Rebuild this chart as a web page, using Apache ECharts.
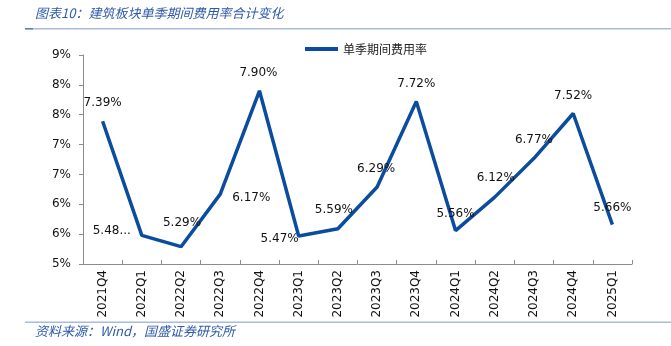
<!DOCTYPE html>
<html>
<head>
<meta charset="utf-8">
<script src="https://cdn.jsdelivr.net/npm/echarts@6/dist/echarts.min.js"></script>
<style>
html,body{margin:0;padding:0;background:#fff;}
#main{width:671px;height:346px;}
</style>
</head>
<body>
<div id="main"></div>
<script>
var categories = ['2021Q4','2022Q1','2022Q2','2022Q3','2022Q4','2023Q1','2023Q2','2023Q3','2023Q4','2024Q1','2024Q2','2024Q3','2024Q4','2025Q1'];
var rateValues = [7.39, 5.48, 5.29, 6.17, 7.90, 5.47, 5.59, 6.29, 7.72, 5.56, 6.12, 6.77, 7.52, 5.66];
var seriesName = '单季期间费用率';
var titleText = '图表10：建筑板块单季期间费用率合计变化';
var sourceText = '资料来源：Wind，国盛证券研究所';
// label offsets (style config, separate from data)
var labelOffsets = [[0,-18],[-30,-4],[1,-24],[31,4],[-1,-18],[-19,3],[-4,-19],[-1,-18],[0,-18],[0,-17],[1,-19],[0,-18],[0,-18],[0,-17]];

var seriesData = rateValues.map(function(v, i){
  return {
    value: v,
    label: {
      show: true,
      position: labelOffsets[i],
      align: 'center',
      verticalAlign: 'middle',
      formatter: i === 1 ? v.toFixed(2) + '...' : v.toFixed(2) + '%'
    }
  };
});

var chart = echarts.init(document.getElementById('main'), null, {renderer:'canvas'});
var axisColor = '#8c8c8c';
var lineColor = '#0B4C9E';
var option = {
  animation: false,
  backgroundColor: '#fff',
  grid: {left: 83, right: 39, top: 55, bottom: 82, containLabel: false},
  legend: {
    data: [seriesName],
    left: 300, top: 38,
    icon: 'rect', itemWidth: 33, itemHeight: 4, itemGap: 4,
    itemStyle: {color: lineColor, opacity: 1},
    textStyle: {fontFamily: 'Noto Sans CJK SC', fontSize: 12, color: '#222'}
  },
  xAxis: {
    type: 'category',
    data: categories,
    boundaryGap: true,
    axisLine: {lineStyle: {color: axisColor, width: 1}},
    axisTick: {show: true, inside: true, length: 4, lineStyle: {color: axisColor}},
    axisLabel: {rotate: 90, margin: 6, interval: 0, fontFamily: 'DejaVu Sans', fontSize: 12, color: '#111'}
  },
  yAxis: {
    type: 'value',
    min: 5, max: 8.5, interval: 0.5,
    splitLine: {show: false},
    axisLine: {show: true, lineStyle: {color: axisColor, width: 1}},
    axisTick: {show: true, length: 4, lineStyle: {color: axisColor}},
    axisLabel: {margin: 12, fontFamily: 'DejaVu Sans', fontSize: 12, color: '#111',
      formatter: function(v){ return Math.round(v) + '%'; }}
  },
  series: [{
    name: seriesName,
    type: 'line',
    data: seriesData,
    symbol: 'circle',
    symbolSize: 0.01,
    showSymbol: true,
    lineStyle: {color: lineColor, width: 3.5},
    itemStyle: {color: lineColor},
    label: {fontFamily: 'DejaVu Sans', fontSize: 12, color: '#111'},
    labelLayout: {hideOverlap: false}
  }],
  graphic: [
    {type: 'text', left: 35, top: 7, style: {text: titleText, font: 'italic 13px "Noto Sans CJK SC"', fill: '#2F5AA8'}},
    {type: 'rect', shape: {x: 25, y: 28, width: 646, height: 1.5}, style: {fill: '#A8BBD8'}},
    {type: 'rect', shape: {x: 25, y: 28, width: 8, height: 1.5}, style: {fill: '#5E7FB5'}},
    {type: 'rect', shape: {x: 25, y: 321.5, width: 646, height: 1.5}, style: {fill: '#A8BBD8'}},
    {type: 'text', left: 35, top: 325, style: {text: sourceText, font: 'italic 13px "Noto Sans CJK SC"', fill: '#2F5AA8'}}
  ]
};
chart.setOption(option);
</script>
</body>
</html>
